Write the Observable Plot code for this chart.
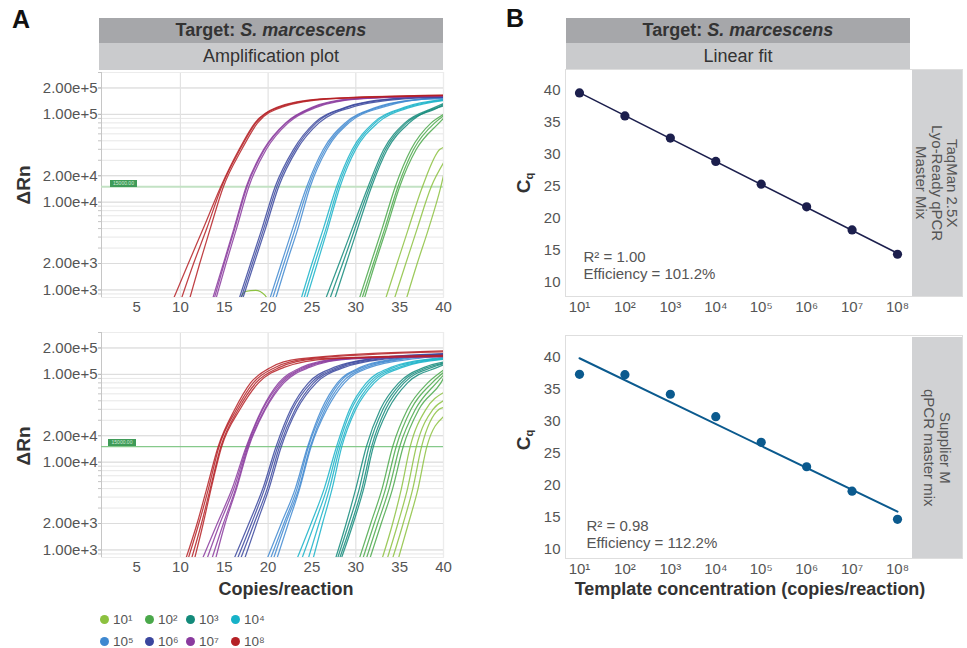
<!DOCTYPE html>
<html>
<head>
<meta charset="utf-8">
<script src="https://cdn.jsdelivr.net/npm/d3@7"></script>
<script src="https://cdn.jsdelivr.net/npm/@observablehq/plot@0.6"></script>
<style>
  body { margin: 0; background: #fff; font-family: "Liberation Sans", Arial, sans-serif; }
  #root { position: relative; width: 967px; height: 648px; overflow: hidden; background: #fff; }
  .abs { position: absolute; }
  .panel { font-weight: bold; font-size: 25px; color: #111; }
  .hdr1 { background: #a6a7aa; color: #333; font-weight: bold; font-size: 18px; text-align: center; line-height: 25px; }
  .hdr2 { background: #cacbcd; color: #333; font-size: 18px; text-align: center; line-height: 27px; }
  .strip { background: #d1d2d4; display: flex; align-items: center; justify-content: center; }
  .strip div { writing-mode: vertical-rl; text-align: center; color: #555; font-size: 15px; line-height: 15.5px; }
  .rot { transform: translate(-50%, -50%) rotate(-90deg); white-space: nowrap; font-weight: bold; color: #333; }
  .xlab { transform: translateX(-50%); white-space: nowrap; font-weight: bold; font-size: 18px; color: #333; }
  .thr { background: #3f9b58; color: #cfe9d5; font-size: 5px; line-height: 7px; text-align: center; overflow: hidden; }
  .box { border: 1.5px solid #dedede; box-sizing: border-box; }
  .leg { display: flex; align-items: center; font-size: 13.5px; color: #555; }
  .leg span.d { display: inline-block; width: 9px; height: 9px; border-radius: 50%; margin-right: 4px; }
  svg { position: absolute; }
</style>
</head>
<body>
<div id="root"></div>
<script>
// ---------- data ----------
const exponents = [1, 2, 3, 4, 5, 6, 7, 8];
const supDigits = ["", "¹", "²", "³", "⁴", "⁵", "⁶", "⁷", "⁸"];
const groupColors = ["#8cc13f", "#4aa84a", "#138a7a", "#17b2c8", "#3f88d0", "#3a469e", "#8a3a9e", "#b52025"];

// ΔRn levels; each curve row: [exponent, cycle at each level..., ΔRn at cycle 40]
const levels = [600, 2000, 5000, 15000, 40000, 80000, 120000, 150000];
const threshold = 15000;

const taqmanCurves = [
  [1, 33.0, 34.7, 36.0, 37.6, 39.6, null, null, null, 42000],
  [1, 34.0, 35.7, 37.0, 38.6, null, null, null, null, 28000],
  [1, 35.4, 37.0, 38.3, 39.7, null, null, null, null, 20000],
  [2, 30.0, 31.7, 33.0, 34.5, 36.3, 38.6, null, null, 100000],
  [2, 30.3, 32.0, 33.3, 34.8, 36.6, 39.0, null, null, 96000],
  [2, 30.6, 32.2, 33.5, 35.0, 36.9, 39.5, null, null, 90000],
  [3, 26.1, 28.1, 29.6, 31.4, 33.2, 35.6, 39.0, null, 133000],
  [3, 26.6, 28.5, 29.9, 31.6, 33.4, 35.8, 39.4, null, 130000],
  [3, 27.2, 28.9, 30.2, 31.8, 33.6, 36.1, null, null, 125000],
  [4, 23.4, 25.0, 26.3, 27.8, 29.6, 32.0, 35.5, null, 148000],
  [4, 23.7, 25.3, 26.6, 28.0, 29.8, 32.2, 35.8, null, 146000],
  [4, 24.0, 25.6, 26.8, 28.2, 30.0, 32.5, 36.2, null, 144000],
  [5, 19.8, 21.5, 22.8, 24.4, 26.3, 28.8, 32.3, 37.5, 155000],
  [5, 20.1, 21.8, 23.1, 24.6, 26.5, 29.0, 32.6, 38.0, 153000],
  [5, 20.5, 22.1, 23.4, 24.8, 26.7, 29.2, 33.0, 39.0, 150000],
  [6, 16.3, 18.0, 19.3, 20.8, 22.9, 25.3, 28.8, 34.0, 160000],
  [6, 16.5, 18.2, 19.5, 21.0, 23.1, 25.5, 29.0, 34.5, 158000],
  [6, 16.7, 18.4, 19.7, 21.2, 23.3, 25.8, 29.5, 35.5, 156000],
  [7, 13.3, 14.9, 16.1, 17.5, 19.5, 22.0, 25.0, 29.5, 162000],
  [7, 13.5, 15.0, 16.2, 17.6, 19.6, 22.1, 25.2, 30.0, 162000],
  [7, 13.7, 15.2, 16.4, 17.8, 19.8, 22.3, 25.5, 30.5, 160000],
  [8, 8.7, 10.9, 12.6, 14.6, 16.7, 18.5, 21.0, 26.0, 166000],
  [8, 9.7, 11.5, 13.0, 14.7, 16.8, 18.6, 21.2, 26.5, 165000],
  [8, 10.7, 12.2, 13.4, 14.9, 17.0, 18.8, 21.5, 27.0, 164000]
];
const taqmanNoise = [[16.6, 700], [17.4, 960], [18.6, 990], [19.6, 880], [20.2, 700]];

const supplierCurves = [
  [1, 32.6, 34.2, 35.2, 36.2, 38.0, null, null, null, 62000],
  [1, 33.2, 34.8, 35.9, 36.9, 38.8, null, null, null, 50000],
  [1, 33.8, 35.4, 36.5, 37.5, 39.5, null, null, null, 42000],
  [1, 34.5, 36.0, 37.1, 38.1, null, null, null, null, 33000],
  [2, 30.0, 31.7, 33.0, 34.2, 35.9, 38.2, null, null, 112000],
  [2, 30.4, 32.1, 33.4, 34.6, 36.3, 38.7, null, null, 105000],
  [2, 30.8, 32.5, 33.8, 35.0, 36.8, 39.2, null, null, 98000],
  [2, 31.2, 32.9, 34.2, 35.4, 37.2, 39.7, null, null, 90000],
  [3, 27.3, 28.9, 30.0, 31.2, 32.8, 34.9, 37.8, null, 138000],
  [3, 27.5, 29.2, 30.4, 31.5, 33.1, 35.2, 38.2, null, 135000],
  [3, 27.7, 29.5, 30.7, 31.8, 33.4, 35.5, 38.7, null, 132000],
  [3, 27.9, 29.7, 30.9, 32.0, 33.7, 35.9, 39.3, null, 128000],
  [4, 22.8, 24.9, 26.4, 27.8, 29.3, 31.2, 34.0, 38.5, 155000],
  [4, 23.4, 25.3, 26.7, 28.0, 29.5, 31.5, 34.4, 39.2, 153000],
  [4, 24.2, 25.8, 27.0, 28.2, 29.8, 31.8, 34.9, null, 150000],
  [4, 24.8, 26.2, 27.3, 28.4, 30.0, 32.1, 35.3, null, 148000],
  [5, 19.4, 21.5, 23.1, 24.5, 26.1, 27.9, 30.5, 34.5, 170000],
  [5, 19.8, 21.8, 23.3, 24.6, 26.3, 28.1, 30.8, 35.0, 168000],
  [5, 20.2, 22.0, 23.5, 24.8, 26.5, 28.4, 31.2, 35.5, 166000],
  [5, 20.6, 22.3, 23.6, 24.9, 26.7, 28.7, 31.6, 36.5, 163000],
  [6, 15.6, 17.8, 19.4, 20.9, 22.6, 24.6, 27.5, 31.5, 172000],
  [6, 16.0, 18.1, 19.6, 21.1, 22.8, 24.9, 27.9, 32.0, 170000],
  [6, 16.4, 18.4, 19.9, 21.3, 23.1, 25.2, 28.3, 32.8, 168000],
  [6, 16.9, 18.7, 20.1, 21.5, 23.3, 25.5, 28.7, 33.5, 165000],
  [7, 12.0, 14.2, 15.9, 17.5, 19.3, 21.2, 23.8, 28.0, 165000],
  [7, 12.6, 14.5, 16.1, 17.6, 19.4, 21.4, 24.1, 28.5, 162000],
  [7, 13.2, 14.9, 16.3, 17.7, 19.6, 21.6, 24.4, 29.0, 160000],
  [7, 13.7, 15.1, 16.4, 17.8, 19.7, 21.8, 24.7, 29.5, 158000],
  [8, 10.2, 11.9, 13.0, 14.3, 16.2, 18.0, 20.3, 23.5, 185000],
  [8, 10.5, 12.1, 13.2, 14.4, 16.4, 18.3, 20.8, 24.5, 180000],
  [8, 10.9, 12.4, 13.4, 14.6, 16.6, 18.6, 21.3, 25.5, 165000],
  [8, 11.3, 12.6, 13.5, 14.7, 16.8, 18.9, 21.8, 27.0, 160000]
];

// Cq values from the standard curves
const cqTaqman = [39.5, 35.9, 32.45, 28.8, 25.25, 21.7, 18.1, 14.3];
const cqSupplier = [37.3, 37.25, 34.2, 30.7, 26.7, 22.9, 19.1, 14.7];

const cycleTicks = [5, 10, 15, 20, 25, 30, 35, 40];
const cycleGrid = [10, 20, 30, 40];
const rnTicks = [1000, 2000, 10000, 20000, 100000, 200000];
const cqTicks = [10, 15, 20, 25, 30, 35, 40];

// ---------- helpers ----------
const FONT = '"Liberation Sans", Arial, sans-serif';
const root = document.getElementById("root");
function add(html, cls, style) {
  const d = document.createElement("div");
  d.className = "abs " + (cls || "");
  Object.assign(d.style, style);
  d.innerHTML = html;
  root.appendChild(d);
  return d;
}
function place(svg, left, top) {
  svg.style.left = left + "px";
  svg.style.top = top + "px";
  root.appendChild(svg);
}

function curvePoints(rows) {
  const pts = [];
  rows.forEach((row, i) => {
    const e = row[0];
    const cyc = row.slice(1, 1 + levels.length);
    const end = row[1 + levels.length];
    cyc.forEach((c, j) => { if (c != null && c < 40) pts.push({id: i, e, c, v: levels[j]}); });
    pts.push({id: i, e, c: 40, v: end});
  });
  return pts;
}

const rnMinor = [];
for (let k = 2; k <= 5; k++) for (let n = 1; n <= 9; n++) {
  const v = n * Math.pow(10, k);
  if (v >= 820 && v <= 300000) rnMinor.push(v);
}

function ampPlot(rows, noise, thrColor, thrWidth, height) {
  const pts = curvePoints(rows);
  return Plot.plot({
    width: 450, height, marginLeft: 101, marginRight: 7, marginTop: 2, marginBottom: height - 227,
    style: {background: "transparent", fontFamily: FONT, fontSize: "15px", color: "#555", overflow: "visible"},
    x: {domain: [1, 40]},
    y: {type: "log", domain: [820, 300000]},
    color: {domain: exponents, range: groupColors},
    marks: [
      Plot.ruleY(rnMinor, {stroke: "#e7e7e7", strokeWidth: 1}),
      Plot.ruleY(rnTicks, {stroke: "#dcdcdc", strokeWidth: 1}),
      Plot.ruleX(cycleGrid, {stroke: "#e2e2e2", strokeWidth: 1.2}),
      Plot.frame({stroke: "#ececec"}),
      Plot.ruleX([1], {stroke: "#c6c6c6"}),
      Plot.ruleY([threshold], {stroke: thrColor, strokeWidth: thrWidth}),
      noise ? Plot.line(noise, {x: "0", y: "1", stroke: groupColors[0], strokeWidth: 1.2, clip: true, curve: "monotone-x"}) : null,
      Plot.line(pts, {x: "c", y: "v", z: "id", stroke: "e", curve: "monotone-x", clip: true, strokeWidth: 1.25, strokeOpacity: 0.85}),
      Plot.axisY(rnMinor, {tickSize: 3, tickFormat: () => "", stroke: "#c4c4c4", label: null}),
      Plot.axisY({ticks: rnTicks, tickFormat: d3.format(".2e"), tickSize: 3, tickPadding: 1, stroke: "#bbb", fill: "#555", label: null}),
      Plot.axisX({ticks: cycleTicks, tickSize: 0, tickPadding: 4, fill: "#555", label: null})
    ]
  });
}

function fitPlot(cq, color, lineWidth, note, dx, dy, yDomain, height) {
  const data = exponents.map((e, i) => ({e, cq: cq[i]}));
  return Plot.plot({
    width: 467, height, marginLeft: 66, marginRight: 57, marginTop: 2, marginBottom: 24,
    style: {background: "transparent", fontFamily: FONT, fontSize: "15px", color: "#555", overflow: "visible"},
    x: {domain: [0.714, 8.286]},
    y: {domain: yDomain},
    marks: [
      Plot.linearRegressionY(data, {x: "e", y: "cq", stroke: color, strokeWidth: lineWidth, ci: 0}),
      Plot.dot(data, {x: "e", y: "cq", r: 4.6, fill: color}),
      Plot.text([note], {frameAnchor: "bottom-left", textAnchor: "start", lineAnchor: "bottom", dx, dy, fill: "#555", fontSize: 15, lineHeight: 1.07}),
      Plot.axisY({ticks: cqTicks, tickSize: 0, tickPadding: 6, fill: "#555", label: null}),
      Plot.axisX({ticks: exponents, tickFormat: k => "10" + supDigits[k], tickSize: 0, tickPadding: 5, fill: "#555", label: null})
    ]
  });
}

// ---------- layout ----------
add("A", "panel", {left: "12px", top: "5px"});
add("B", "panel", {left: "506px", top: "4px"});

add("Target: <i>S. marcescens</i>", "hdr1", {left: "99px", top: "18px", width: "344px", height: "25px"});
add("Amplification plot", "hdr2", {left: "99px", top: "43px", width: "344px", height: "27px"});
add("Target: <i>S. marcescens</i>", "hdr1", {left: "566px", top: "18px", width: "344px", height: "25px"});
add("Linear fit", "hdr2", {left: "566px", top: "43px", width: "344px", height: "27px"});

// right panel frames and strips
add("", "box", {left: "565px", top: "69px", width: "398px", height: "228px"});
add("", "box", {left: "565px", top: "335px", width: "398px", height: "224px"});
add("<div>TaqMan 2.5X<br>Lyo-Ready qPCR<br>Master Mix</div>", "strip", {left: "912px", top: "70px", width: "50px", height: "226px"});
add("<div>Supplier M<br>qPCR master mix</div>", "strip", {left: "912px", top: "337px", width: "50px", height: "221px"});

// amplification plots
place(ampPlot(taqmanCurves, taqmanNoise, "#c3e2c4", 2, 250), 0, 70);
place(ampPlot(supplierCurves, null, "#86c98b", 1.3, 251), 0, 330);

// threshold labels
add("15000.00", "thr", {left: "110px", top: "180px", width: "27px", height: "7px"});
add("15000.00", "thr", {left: "108px", top: "439px", width: "28px", height: "7px"});

// linear fit plots
place(fitPlot(cqTaqman, "#1c1f4d", 1.5, "R² = 1.00\nEfficiency = 101.2%", 17, -18, [7.7, 43.0], 252), 500, 68);
place(fitPlot(cqSupplier, "#0b5a8e", 2, "R² = 0.98\nEfficiency = 112.2%", 20, -11, [8.6, 43.2], 248), 500, 334);

// axis titles
add("ΔRn", "rot", {left: "24px", top: "185px", fontSize: "19px"});
add("ΔRn", "rot", {left: "24px", top: "446px", fontSize: "19px"});
add("C<sub style='font-size:11px;vertical-align:-3px'>q</sub>", "rot", {left: "524px", top: "183px", fontSize: "19px"});
add("C<sub style='font-size:11px;vertical-align:-3px'>q</sub>", "rot", {left: "524px", top: "440px", fontSize: "19px"});
add("Copies/reaction", "xlab", {left: "286px", top: "579px"});
add("Template concentration (copies/reaction)", "xlab", {left: "750px", top: "579px"});

// legend
const legX = [100, 145, 186, 231];
exponents.forEach((e, i) => {
  add(`<span class="d" style="background:${groupColors[i]}"></span>10${supDigits[e]}`, "leg",
      {left: legX[i % 4] + "px", top: (i < 4 ? 611 : 633) + "px", height: "17px"});
});
</script>
</body>
</html>
